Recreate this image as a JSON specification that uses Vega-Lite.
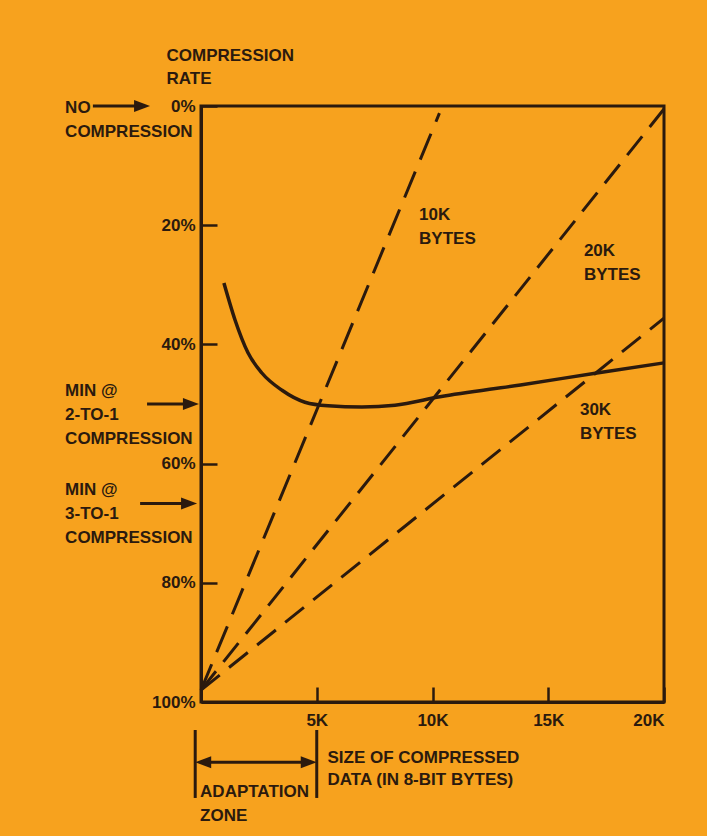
{
  "$schema": "https://vega.github.io/schema/vega-lite/v6.json",
  "width": 463,
  "height": 596,
  "autosize": {"type": "none"},
  "padding": {"left": 201, "top": 106, "right": 43, "bottom": 134},
  "background": "#F7A21E",
  "config": {
    "view": {"stroke": "#2B1A0E", "strokeWidth": 3},
    "font": "Liberation Sans",
    "text": {"font": "Liberation Sans", "fontWeight": "bold", "fontSize": 17, "color": "#2B1A0E"}
  },
  "datasets": {
    "curve": [
      {"k": 0.99, "r": 29.7}, {"k": 1.47, "r": 35.9}, {"k": 2.03, "r": 41.4},
      {"k": 2.63, "r": 44.8}, {"k": 3.5, "r": 47.7}, {"k": 4.49, "r": 49.7},
      {"k": 5.49, "r": 50.3}, {"k": 6.95, "r": 50.5}, {"k": 8.38, "r": 50.2},
      {"k": 10.32, "r": 48.8}, {"k": 13.8, "r": 46.8}, {"k": 17.1, "r": 44.8},
      {"k": 20.0, "r": 43.1}
    ],
    "dashed": [
      {"s": "10K", "k": 0, "r": 98}, {"s": "10K", "k": 10.3, "r": 1.2},
      {"s": "20K", "k": 0, "r": 98}, {"s": "20K", "k": 20, "r": 0.5},
      {"s": "30K", "k": 0, "r": 98}, {"s": "30K", "k": 20, "r": 35.6}
    ],
    "ann": [
      {"t": ["NO", "COMPRESSION"], "k": -5.87, "r": 1.17},
      {"t": ["MIN @", "2-TO-1", "COMPRESSION"], "k": -5.87, "r": 48.66},
      {"t": ["MIN @", "3-TO-1", "COMPRESSION"], "k": -5.87, "r": 65.27},
      {"t": ["10K", "BYTES"], "k": 9.42, "r": 19.1},
      {"t": ["20K", "BYTES"], "k": 16.54, "r": 25.2},
      {"t": ["30K", "BYTES"], "k": 16.37, "r": 51.8},
      {"t": ["ADAPTATION", "ZONE"], "k": -0.04, "r": 115.9}
    ],
    "shafts": [
      {"k": -4.67, "k2": -2.6, "r": 0},
      {"k": -2.33, "k2": -0.5, "r": 50},
      {"k": -2.63, "k2": -0.6, "r": 66.7},
      {"k": 0.2, "k2": 4.6, "r": 110.1}
    ],
    "heads": [
      {"k": -2.2, "r": 0, "dir": "right"},
      {"k": -0.09, "r": 50, "dir": "right"},
      {"k": -0.17, "r": 66.7, "dir": "right"},
      {"k": -0.25, "r": 110.1, "dir": "left"},
      {"k": 5.0, "r": 110.1, "dir": "right"}
    ],
    "bars": [
      {"k": -0.25, "r": 104.7, "r2": 116.1},
      {"k": 5.0, "r": 104.7, "r2": 116.1}
    ]
  },
  "layer": [
    {
      "data": {"name": "curve"},
      "mark": {"type": "line", "interpolate": "monotone", "color": "#2B1A0E", "strokeWidth": 3.5},
      "encoding": {
        "x": {
          "field": "k", "type": "quantitative",
          "scale": {"domain": [0, 20], "nice": false, "zero": false},
          "axis": {
            "values": [5, 10, 15, 20],
            "labelExpr": "datum.value + 'K'",
            "grid": false,
            "domainColor": "#2B1A0E", "domainWidth": 3,
            "tickColor": "#2B1A0E", "tickWidth": 2.5, "tickSize": -15,
            "labelPadding": 25,
            "labelFont": "Liberation Sans", "labelFontWeight": "bold", "labelFontSize": 17, "labelColor": "#2B1A0E",
            "title": ["SIZE OF COMPRESSED", "DATA (IN 8-BIT BYTES)"],
            "titleX": 126, "titleY": 60, "titleAlign": "left", "titleAnchor": "start", "titleBaseline": "alphabetic",
            "titleLineHeight": 22,
            "titleFont": "Liberation Sans", "titleFontWeight": "bold", "titleFontSize": 17, "titleColor": "#2B1A0E"
          }
        },
        "y": {
          "field": "r", "type": "quantitative",
          "scale": {"domain": [0, 100], "nice": false, "zero": false, "reverse": true},
          "axis": {
            "values": [0, 20, 40, 60, 80, 100],
            "labelExpr": "datum.value + '%'",
            "grid": false,
            "domainColor": "#2B1A0E", "domainWidth": 3,
            "tickColor": "#2B1A0E", "tickWidth": 2.5, "tickSize": -16,
            "labelPadding": 22,
            "labelFont": "Liberation Sans", "labelFontWeight": "bold", "labelFontSize": 17, "labelColor": "#2B1A0E",
            "title": ["COMPRESSION", "RATE"],
            "titleX": -35, "titleY": -46, "titleAngle": 0, "titleAlign": "left", "titleBaseline": "alphabetic",
            "titleLineHeight": 23,
            "titleFont": "Liberation Sans", "titleFontWeight": "bold", "titleFontSize": 17, "titleColor": "#2B1A0E"
          }
        }
      }
    },
    {
      "data": {"name": "dashed"},
      "mark": {"type": "line", "color": "#2B1A0E", "strokeWidth": 3},
      "encoding": {
        "x": {"field": "k", "type": "quantitative"},
        "y": {"field": "r", "type": "quantitative"},
        "detail": {"field": "s"},
        "strokeDash": {
          "field": "s", "type": "nominal",
          "scale": {"domain": ["10K", "20K", "30K"], "range": [[28, 13], [24, 12], [24, 12]]},
          "legend": null
        }
      }
    },
    {
      "data": {"name": "ann"},
      "mark": {"type": "text", "align": "left", "baseline": "alphabetic", "lineHeight": 24},
      "encoding": {
        "x": {"field": "k", "type": "quantitative"},
        "y": {"field": "r", "type": "quantitative"},
        "text": {"field": "t"}
      }
    },
    {
      "data": {"name": "shafts"},
      "mark": {"type": "rule", "color": "#2B1A0E", "strokeWidth": 3},
      "encoding": {
        "x": {"field": "k", "type": "quantitative"},
        "x2": {"field": "k2"},
        "y": {"field": "r", "type": "quantitative"}
      }
    },
    {
      "data": {"name": "bars"},
      "mark": {"type": "rule", "color": "#2B1A0E", "strokeWidth": 3},
      "encoding": {
        "x": {"field": "k", "type": "quantitative"},
        "y": {"field": "r", "type": "quantitative"},
        "y2": {"field": "r2"}
      }
    },
    {
      "data": {"name": "heads"},
      "mark": {"type": "point", "filled": true, "color": "#2B1A0E", "opacity": 1, "size": 256, "strokeWidth": 0},
      "encoding": {
        "x": {"field": "k", "type": "quantitative"},
        "y": {"field": "r", "type": "quantitative"},
        "shape": {
          "field": "dir", "type": "nominal",
          "scale": {"domain": ["right", "left"], "range": ["M0,0L-2,-0.75L-2,0.75Z", "M0,0L2,-0.75L2,0.75Z"]},
          "legend": null
        }
      }
    }
  ]
}
